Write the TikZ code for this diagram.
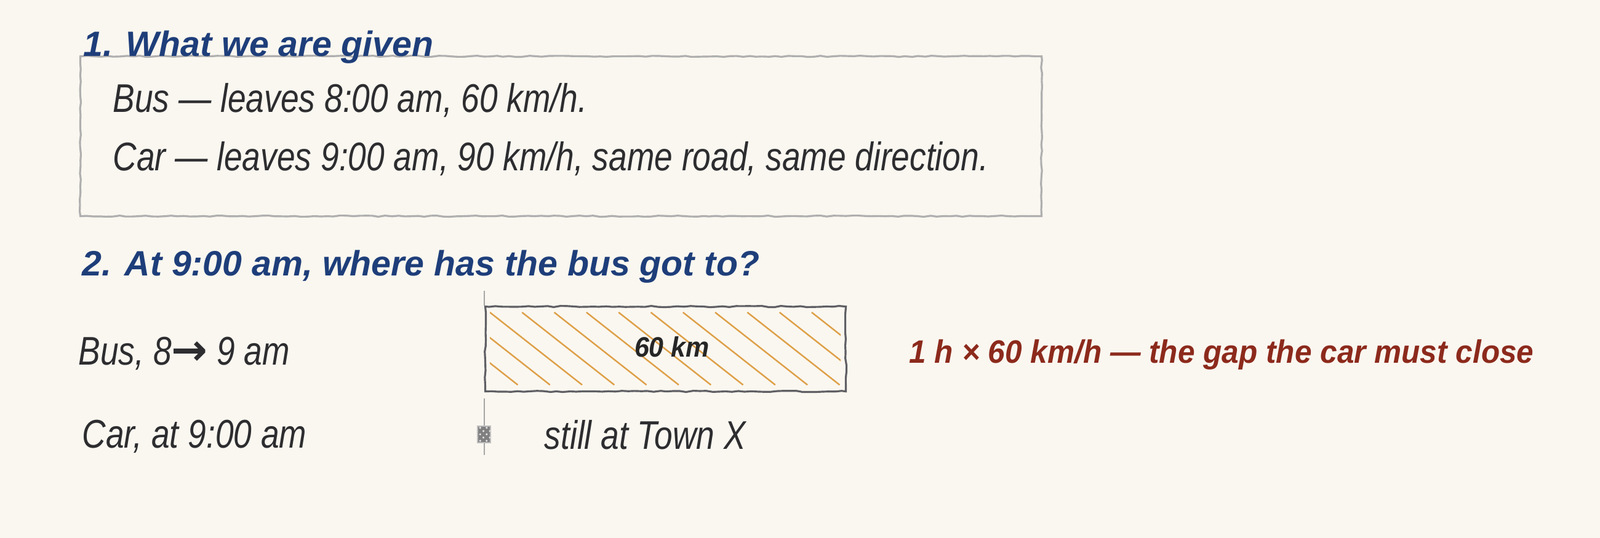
\documentclass[tikz,border=0pt]{standalone}
\usepackage{fontspec}
\setmainfont{Liberation Sans}
\newfontfamily\handfont{Liberation Sans}[FakeStretch=0.82]
\newfontfamily\headfont{Liberation Sans}
\newfontfamily\notefont{Liberation Sans}[FakeStretch=0.94]
\newfontfamily\arrowfont{DejaVu Sans}
\usetikzlibrary{decorations.pathmorphing,patterns}
\definecolor{paper}{RGB}{250,247,240}
\definecolor{headblue}{RGB}{30,62,122}
\definecolor{inkgray}{RGB}{45,45,48}
\definecolor{notered}{RGB}{140,42,28}
\definecolor{framegray}{RGB}{175,175,175}
\definecolor{boxgray}{RGB}{95,95,100}
\definecolor{hatchorange}{RGB}{222,160,72}
\tikzset{%
	head/.style     = {anchor=base west, inner sep=0pt, text=headblue,
		font=\headfont\bfseries\itshape\fontsize{16.3}{19}\selectfont},
	body/.style     = {anchor=base west, inner sep=0pt, text=inkgray,
		font=\handfont\itshape\fontsize{18.5}{22}\selectfont},
	note/.style     = {anchor=base west, inner sep=0pt, text=notered,
		font=\notefont\bfseries\itshape\fontsize{15}{18}\selectfont},
	kmlabel/.style  = {anchor=base, inner sep=0pt, text=black!85,
		font=\notefont\bfseries\itshape\fontsize{13}{15}\selectfont},
	frame/.style    = {draw=framegray, line width=0.9pt, inner sep=0pt,
		decorate, decoration={random steps, segment length=3pt, amplitude=0.3pt}},
	gapbox/.style   = {draw=boxgray, line width=0.9pt, inner sep=0pt,
		decorate, decoration={random steps, segment length=3pt, amplitude=0.3pt}},
	hatch/.style    = {draw=hatchorange, line width=0.7pt},
	axis/.style     = {draw=gray!70, line width=0.6pt},
	marker/.style   = {draw=gray!50, fill=black!50, inner sep=0pt,
		postaction={pattern=crosshatch dots, pattern color=white!80!gray},
		minimum width=0.21cm, minimum height=0.27cm} % car still at the start
}

\begin{document}
\begin{tikzpicture}
	\fill[paper] (0,0) rectangle (26,-8.75);
	\useasboundingbox (0,0) rectangle (26,-8.75);

	% 1. what we are given
	\node[frame, minimum width=15.62cm, minimum height=2.6cm, anchor=north west] (givenbox) at (1.29,-0.90) {};
	\node[head] (title1) at (1.35,-0.92) {1. What we are given};
	\node[body] (busgiven) at (1.83,-1.83) {Bus — leaves 8:00 am, 60 km/h.};
	\node[body] (cargiven) at (1.83,-2.78) {Car — leaves 9:00 am, 90 km/h, same road, same direction.};

	% 2. the head start
	\node[head] (title2) at (1.33,-4.48) {2. At 9:00 am, where has the bus got to?};
	\node[body] (busrow) at (1.27,-5.93) {Bus, 8{\arrowfont\bfseries\upshape\fontsize{20}{22}\selectfont →} 9 am};
	\node[body] (carrow) at (1.33,-7.28) {Car, at 9:00 am};

	\node[gapbox, minimum width=5.86cm, minimum height=1.38cm, anchor=north west] (gap) at (7.87,-4.97) {};
	\begin{scope}
		\clip ([shift={(0.09,-0.09)}]gap.north west) rectangle ([shift={(-0.1,0.09)}]gap.south east);
		\foreach \k in {-3,...,10}
			\draw[hatch] (7.96+0.523*\k,-5.08) -- ++(1.5,-1.18);
	\end{scope}
	\node[kmlabel] (km) at (10.92,-5.80) {60 km};
	\node[note] (gapnote) at (14.77,-5.90) {1 h × 60 km/h — the gap the car must close};

	\coordinate (axtop) at (7.87,-4.73);
	\coordinate (axlow) at (7.87,-6.48);
	\coordinate (axend) at (7.87,-7.40);
	\draw[axis] (axtop) -- (gap.north west);
	\draw[axis] (axlow) -- (axend);
	\node[marker] (carmark) at (7.865,-7.065) {};
	\node[body] (still) at (8.84,-7.30) {still at Town X};
\end{tikzpicture}
\end{document}
